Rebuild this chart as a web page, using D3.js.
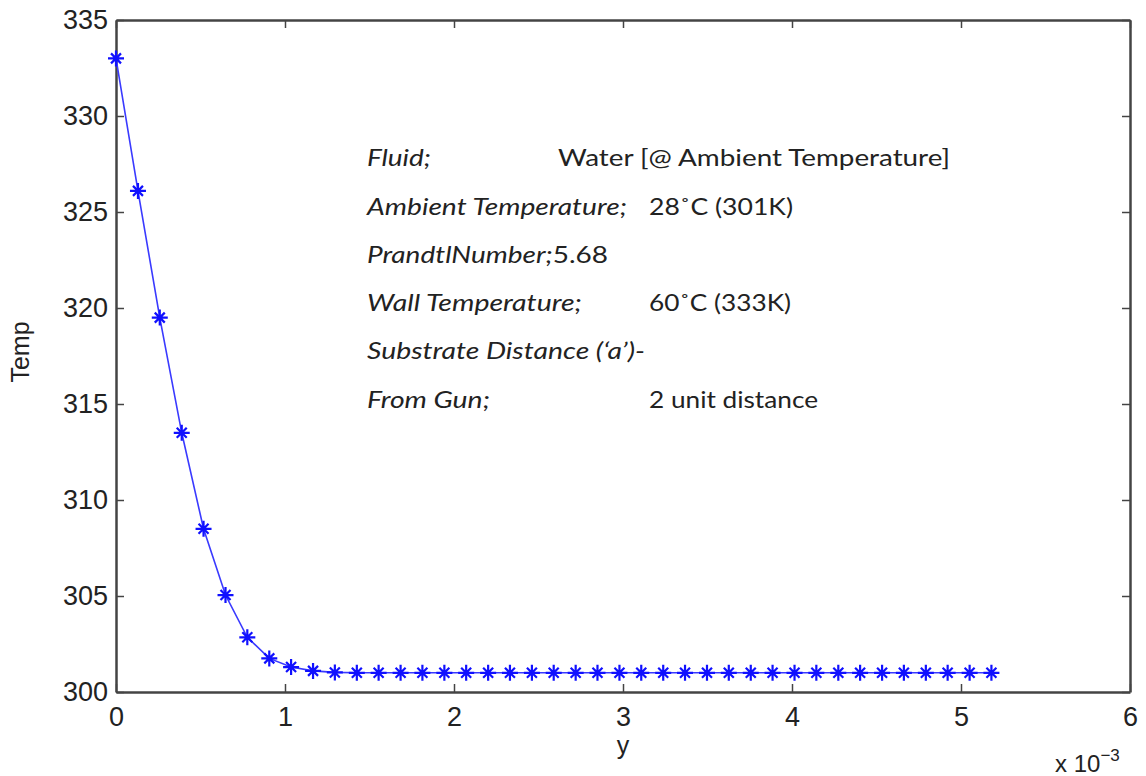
<!DOCTYPE html>
<html>
<head>
<meta charset="utf-8">
<script src="https://cdn.jsdelivr.net/npm/d3@7"></script>
<style>
  body { margin: 0; background: #fff; }
  svg { display: block; }
  .tick text { font-family: "Liberation Sans", Arial, sans-serif; font-size: 27px; fill: #222; }
  .note { font-family: Lato, "Open Sans", sans-serif; font-size: 24px; fill: #222; }
</style>
</head>
<body>
<div id="chart"></div>
<script>
// y position (x 10^-3)
var yPos = [0, 0.13, 0.259, 0.389, 0.518, 0.648, 0.777, 0.907, 1.036, 1.166,
  1.295, 1.425, 1.554, 1.684, 1.813, 1.943, 2.072, 2.202, 2.331, 2.461,
  2.59, 2.72, 2.849, 2.979, 3.108, 3.238, 3.367, 3.497, 3.626, 3.756,
  3.885, 4.015, 4.144, 4.274, 4.403, 4.533, 4.662, 4.792, 4.921, 5.051, 5.18];
// temperature (K)
var temp = [333.0, 326.1, 319.5, 313.5, 308.5, 305.05, 302.85, 301.75, 301.3, 301.1,
  301.02, 301.0, 301.0, 301.0, 301.0, 301.0, 301.0, 301.0, 301.0, 301.0,
  301.0, 301.0, 301.0, 301.0, 301.0, 301.0, 301.0, 301.0, 301.0, 301.0,
  301.0, 301.0, 301.0, 301.0, 301.0, 301.0, 301.0, 301.0, 301.0, 301.0, 301.0];

var xTicks = [0, 1, 2, 3, 4, 5, 6];
var yTicks = [300, 305, 310, 315, 320, 325, 330, 335];

// annotation rows: [left text, right text]
var noteLeft = ["Fluid;", "Ambient Temperature;", "PrandtlNumber;5.68",
  "Wall Temperature;", "Substrate Distance (\u2018a\u2019)-", "From Gun;"];
var noteRight = ["Water [@ Ambient Temperature]", "28\u02DAC (301K)", "",
  "60\u02DAC (333K)", "", "2 unit distance"];
var noteLeftW = [64, 260, 241, 215, 278, 123];
var noteRightW = [392, 144, 0, 142, 0, 169];
var noteRightX = [558, 649, 0, 649, 0, 649];

var svgWidth = 1146, svgHeight = 776;
var margin = {top: 20, right: 16, bottom: 84, left: 116};
var width = svgWidth - margin.left - margin.right;
var height = svgHeight - margin.top - margin.bottom;

var svg = d3.select("#chart").append("svg")
  .attr("width", svgWidth)
  .attr("height", svgHeight);

svg.append("rect").attr("width", svgWidth).attr("height", svgHeight).attr("fill", "#fff");

var chartGroup = svg.append("g")
  .attr("transform", `translate(${margin.left}, ${margin.top})`);

var x = d3.scaleLinear().domain([0, 6]).range([0, width]);
var y = d3.scaleLinear().domain([300, 335]).range([height, 0]);

function styleAxis(g) {
  g.select(".domain").attr("stroke", "#444").attr("stroke-width", 2.5);
  g.selectAll(".tick line").attr("stroke", "#444").attr("stroke-width", 1.5);
}

chartGroup.append("g")
  .attr("transform", `translate(0, ${height})`)
  .call(d3.axisBottom(x).tickValues(xTicks).tickFormat(d3.format("d"))
    .tickSizeInner(-8).tickSizeOuter(0).tickPadding(15))
  .call(styleAxis);

chartGroup.append("g")
  .call(d3.axisLeft(y).tickValues(yTicks).tickSizeInner(-8).tickSizeOuter(0).tickPadding(8))
  .call(styleAxis);

chartGroup.append("g")
  .call(d3.axisTop(x).tickValues(xTicks).tickSizeInner(-8).tickSizeOuter(0).tickFormat(""))
  .call(styleAxis);

chartGroup.append("g")
  .attr("transform", `translate(${width}, 0)`)
  .call(d3.axisRight(y).tickValues(yTicks).tickSizeInner(-8).tickSizeOuter(0).tickFormat(""))
  .call(styleAxis);

var pts = yPos.map((d, i) => ({x: d, t: temp[i]}));

var line = d3.line().x(d => x(d.x)).y(d => y(d.t));

chartGroup.append("path")
  .datum(pts)
  .attr("d", line)
  .attr("fill", "none")
  .attr("stroke", "#3a3aff")
  .attr("stroke-width", 1.6);

// asterisk markers
var star = "M-8,0L8,0M0,-8L0,8M-5,-5L5,5M-5,5L5,-5";
chartGroup.selectAll(".marker")
  .data(pts)
  .enter()
  .append("path")
  .attr("class", "marker")
  .attr("transform", d => `translate(${x(d.x)}, ${y(d.t)})`)
  .attr("d", star)
  .attr("stroke", "#1010ff")
  .attr("stroke-width", 2.2);

// axis labels
svg.append("text")
  .attr("transform", "translate(29, 352) rotate(-90)")
  .attr("text-anchor", "middle")
  .attr("font-family", "Liberation Sans, Arial, sans-serif")
  .attr("font-size", 25)
  .attr("fill", "#222")
  .text("Temp");

svg.append("text")
  .attr("x", 623)
  .attr("y", 754)
  .attr("text-anchor", "middle")
  .attr("font-family", "Liberation Sans, Arial, sans-serif")
  .attr("font-size", 25)
  .attr("fill", "#222")
  .text("y");

var expo = svg.append("text")
  .attr("x", 1055)
  .attr("y", 772)
  .attr("font-family", "Liberation Sans, Arial, sans-serif")
  .attr("font-size", 24)
  .attr("fill", "#222");
expo.append("tspan").text("x 10");
expo.append("tspan").attr("font-size", 17).attr("dy", -11).text("\u22123");

// annotation block
var rowY = [166, 215, 263, 311, 359, 408];
noteLeft.forEach(function(t, i) {
  svg.append("text")
    .attr("class", "note")
    .attr("x", 367)
    .attr("y", rowY[i])
    .attr("font-style", i == 2 ? "normal" : "italic")
    .attr("textLength", noteLeftW[i])
    .attr("lengthAdjust", "spacingAndGlyphs")
    .call(function(s) {
      if (i == 2) {
        s.append("tspan").attr("font-style", "italic").text("PrandtlNumber;");
        s.append("tspan").text("5.68");
      } else {
        s.text(t);
      }
    });
  if (noteRight[i]) {
    svg.append("text")
      .attr("class", "note")
      .attr("x", noteRightX[i])
      .attr("y", rowY[i])
      .attr("textLength", noteRightW[i])
      .attr("lengthAdjust", "spacingAndGlyphs")
      .text(noteRight[i]);
  }
});
</script>
</body>
</html>
